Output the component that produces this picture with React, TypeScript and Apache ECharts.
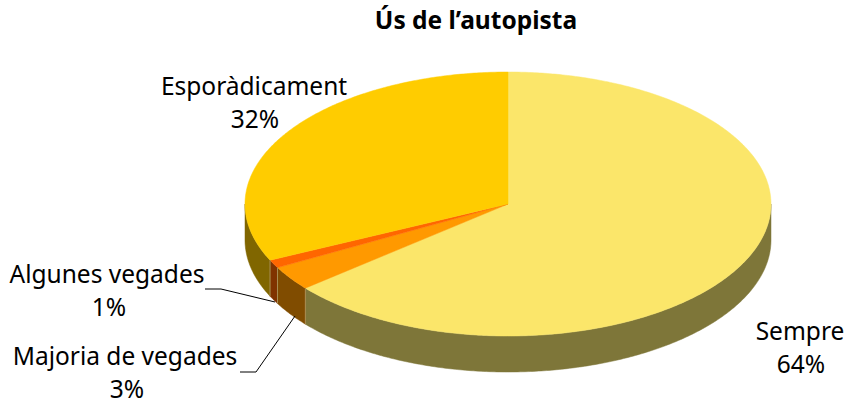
import React, { useEffect, useRef } from "react";
import * as echarts from "echarts";

const categories = ["Sempre", "Majoria de vegades", "Algunes vegades", "Esporàdicament"];
const shares = [64, 3, 1, 32];
const topColors = ["#FBE66A", "#FF9900", "#FF6600", "#FFCC00"];
const sideColors = ["#7E7639", "#804C00", "#803300", "#806600"];

const CX = 508, CY = 204, RX = 263, RY = 132, DEPTH = 36;
const FONT = '"Noto Sans", sans-serif';
const FONT_SIZE = 24.5;
const labelPos: number[][] = [[800, 330, 363], [125, 355, 388], [107, 273, 306], [254, 85, 118]];
const valueShift = [1, 2, 2, 1];
const leaders: number[][][] = [
  [],
  [[240, 372], [256, 372], [295, 316]],
  [[205, 289], [221, 289], [275, 302]],
  [],
];

const pt = (a: number, dy = 0) => [CX + RX * Math.sin(a), CY - RY * Math.cos(a) + dy];
const arc = (a0: number, a1: number, dy = 0) => {
  const n = Math.max(2, Math.ceil(Math.abs(a1 - a0) / 0.01));
  const out: number[][] = [];
  for (let i = 0; i <= n; i++) out.push(pt(a0 + ((a1 - a0) * i) / n, dy));
  return out;
};
const textEl = (text: string, x: number, y: number) => ({
  type: "text",
  x,
  y,
  z2: 10,
  style: {
    text,
    fill: "#000",
    font: `${FONT_SIZE}px ${FONT}`,
    align: "center",
    verticalAlign: "middle",
  },
});

export default function App() {
  const ref = useRef<HTMLDivElement>(null);
  useEffect(() => {
    document.body.style.margin = "0";
    const chart = echarts.init(ref.current!, undefined, { renderer: "svg" });
    const total = shares.reduce((a, b) => a + b, 0);
    const renderItem = (params: any, api: any) => {
      const i = params.dataIndex;
      let before = 0;
      for (let k = 0; k < i; k++) before += shares[k];
      const a0 = (before / total) * 2 * Math.PI;
      const a1 = ((before + api.value(0)) / total) * 2 * Math.PI;
      const children: any[] = [];
      const s0 = Math.max(a0, Math.PI / 2);
      const s1 = Math.min(a1, (3 * Math.PI) / 2);
      if (s1 > s0) {
        children.push({
          type: "polygon",
          shape: { points: [...arc(s0, s1, 0), ...arc(s1, s0, DEPTH)] },
          style: { fill: sideColors[i], stroke: sideColors[i], lineWidth: 0.5 },
        });
        if (s1 < (3 * Math.PI) / 2) {
          const [x, y] = pt(s1);
          children.push({
            type: "line",
            z2: 2,
            shape: { x1: x, y1: y, x2: x, y2: y + DEPTH },
            style: { stroke: "#A98F55", lineWidth: 1 },
          });
        }
      }
      children.push({
        type: "polygon",
        shape: { points: [[CX, CY], ...arc(a0, a1)] },
        style: { fill: topColors[i], stroke: topColors[i], lineWidth: 0.5 },
      });
      if (leaders[i].length) {
        children.push({
          type: "polyline",
          z2: 3,
          shape: { points: leaders[i] },
          style: { fill: "none", stroke: "#000", lineWidth: 1 },
        });
      }
      const [lx, ly1, ly2] = labelPos[i];
      children.push(textEl(categories[i], lx, ly1));
      children.push(textEl(`${api.value(0)}%`, lx + valueShift[i], ly2));
      return { type: "group", children };
    };
    chart.setOption({
      animation: false,
      title: {
        text: "Ús de l’autopista",
        left: 471,
        top: 2,
        textAlign: "center",
        textStyle: { fontFamily: FONT, fontWeight: "bold", fontSize: 24.5, color: "#000" },
      },
      series: [
        {
          type: "custom",
          coordinateSystem: "none",
          silent: true,
          renderItem,
          data: shares.map((v) => [v]),
        },
      ],
    });
    return () => chart.dispose();
  }, []);
  return <div ref={ref} style={{ width: 848, height: 403, background: "#fff" }} />;
}
